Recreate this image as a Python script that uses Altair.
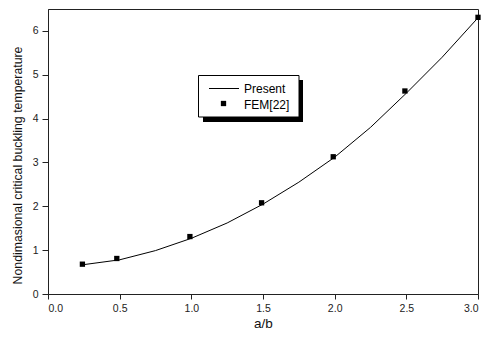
import altair as alt
import pandas as pd

# data
present_x = [0.25, 0.5, 0.75, 1.0, 1.25, 1.5, 1.75, 2.0, 2.25, 2.5, 2.75, 3.0]
present_y = [0.67, 0.78, 0.99, 1.27, 1.62, 2.05, 2.55, 3.12, 3.80, 4.58, 5.40, 6.30]
fem_x = [0.24, 0.48, 0.99, 1.49, 1.99, 2.49, 3.0]
fem_y = [0.68, 0.81, 1.31, 2.08, 3.13, 4.63, 6.31]

x_ticks = [0, 0.25, 0.5, 0.75, 1.0, 1.25, 1.5, 1.75, 2.0, 2.25, 2.5, 2.75, 3.0]
y_ticks = [0, 0.5, 1, 1.5, 2, 2.5, 3, 3.5, 4, 4.5, 5, 5.5, 6, 6.5]
legend_labels = ["Present", "FEM[22]"]

x_title = "a/b"
y_title = "Nondimasional critical buckling temperature"

W, H = 430, 285
FONT = "Liberation Sans"

present = pd.DataFrame({"x": present_x, "y": present_y})
fem = pd.DataFrame({"x": fem_x, "y": fem_y})

xscale = alt.Scale(domain=[0, 3], nice=False, zero=False)
yscale = alt.Scale(domain=[0, 6.5], nice=False, zero=False)

xaxis = alt.Axis(
    values=x_ticks,
    labelExpr="datum.value % 0.5 === 0 ? format(datum.value, '.1f') : ''",
    tickSize={"condition": {"test": "datum.value % 0.5 !== 0", "value": 3}, "value": 5},
    title=x_title,
    grid=False,
    labelPadding=4,
    titleFontSize=13.5,
    titlePadding=3,
)
yaxis = alt.Axis(
    values=y_ticks,
    labelExpr="datum.value % 1 === 0 ? format(datum.value, 'd') : ''",
    tickSize={"condition": {"test": "datum.value % 1 !== 0", "value": 3}, "value": 6},
    title=y_title,
    grid=False,
    labelPadding=4,
    titleFontSize=12.3,
    titleX=-30.5,
    titleY=156,
    titleAlign="center",
    titleBaseline="middle",
    titleAngle=270,
)

line = alt.Chart(present).mark_line(color="black", strokeWidth=1).encode(
    x=alt.X("x:Q", scale=xscale, axis=xaxis),
    y=alt.Y("y:Q", scale=yscale, axis=yaxis),
)
pts = alt.Chart(fem).mark_point(shape="square", filled=True, color="black", size=28, opacity=1).encode(
    x=alt.X("x:Q", scale=xscale),
    y=alt.Y("y:Q", scale=yscale),
)

# legend box (decoration)
one = pd.DataFrame({"a": [0]})
shadow = alt.Chart(one).mark_rect(color="black").encode(
    x=alt.value(155), x2=alt.value(255), y=alt.value(71), y2=alt.value(113)
)
box = alt.Chart(one).mark_rect(fill="white", stroke="black", strokeWidth=1).encode(
    x=alt.value(150.5), x2=alt.value(251), y=alt.value(66.5), y2=alt.value(108)
)
sample_line = alt.Chart(one).mark_rule(color="black", strokeWidth=1).encode(
    x=alt.value(161), x2=alt.value(191), y=alt.value(79.5)
)
sample_pt = alt.Chart(one).mark_point(shape="square", filled=True, color="black", size=28, opacity=1).encode(
    x=alt.value(175.5), y=alt.value(94.5)
)
text_present = alt.Chart(one).mark_text(
    align="left", baseline="middle", font=FONT, fontSize=12, color="black", text=legend_labels[0]
).encode(x=alt.value(196), y=alt.value(80))
text_fem = alt.Chart(one).mark_text(
    align="left", baseline="middle", font=FONT, fontSize=12, color="black", text=legend_labels[1]
).encode(x=alt.value(196), y=alt.value(95.5))

chart = alt.layer(line, pts, shadow, box, sample_line, sample_pt, text_present, text_fem).properties(
    width=W, height=H,
    autosize=alt.AutoSizeParams(type="none"),
    padding={"left": 40, "top": 1, "right": 8, "bottom": 37},
).configure_view(stroke="#222", strokeWidth=1).configure_axis(
    domainColor="#222", tickColor="#222", labelColor="#222", titleColor="#111",
    labelFont=FONT, titleFont=FONT, labelFontSize=10.5,
    titleFontWeight="normal",
)

chart.save("out.html", embed_options={"renderer": "svg", "actions": False})
